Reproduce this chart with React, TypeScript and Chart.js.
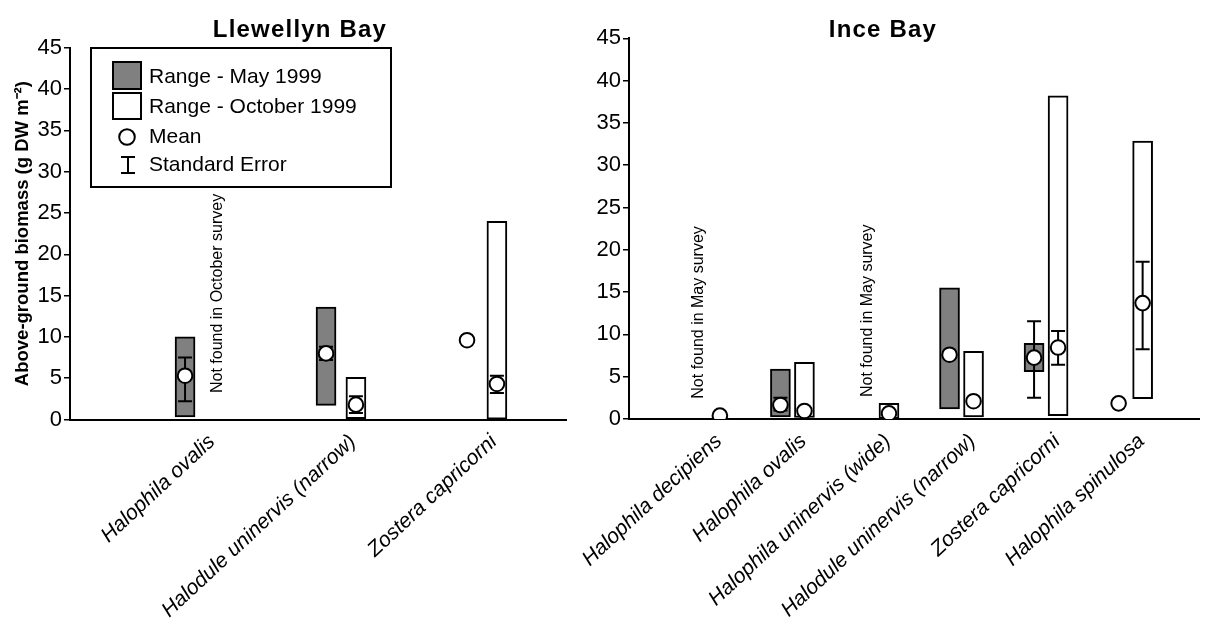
import React, { useEffect, useRef } from "react";
import { Chart, registerables } from "chart.js";

Chart.register(...registerables);

type Range = [number, number] | null;

// ---------- shared ----------
const yTickValues = [0, 5, 10, 15, 20, 25, 30, 35, 40, 45];
const yAxisTitle = "Above-ground biomass (g DW m\u207B\u00B2)";
const legendLabels = ["Range - May 1999", "Range - October 1999", "Mean", "Standard Error"];

// ---------- Llewellyn Bay ----------
const llewellynTitle = "Llewellyn Bay";
const llewellynCategories = ["Halophila ovalis", "Halodule uninervis (narrow)", "Zostera capricorni"];
const llewellynMayRange: Range[] = [[0.3, 10.0], [1.7, 13.6], null];
const llewellynOctRange: Range[] = [null, [0.1, 5.1], [0.05, 24.0]];
const llewellynMayMean: (number | null)[] = [5.3, 8.0, 9.6];
const llewellynOctMean: (number | null)[] = [null, 1.8, 4.3];
const llewellynMaySE: Range[] = [[2.2, 7.5], [7.2, 8.8], null];
const llewellynOctSE: Range[] = [null, [0.8, 2.8], [3.2, 5.3]];
const llewellynNotes = [{ category: 0, series: "oct", from: 3.2, text: "Not found in October survey" }];

// ---------- Ince Bay ----------
const inceTitle = "Ince Bay";
const inceCategories = [
  "Halophila decipiens",
  "Halophila ovalis",
  "Halophila uninervis (wide)",
  "Halodule uninervis (narrow)",
  "Zostera capricorni",
  "Halophila spinulosa",
];
const inceMayRange: Range[] = [null, [0.25, 5.9], null, [1.2, 15.5], [5.6, 8.95], null];
const inceOctRange: Range[] = [null, [0.2, 6.7], [0.05, 1.85], [0.25, 8.0], [0.4, 38.2], [2.4, 32.85]];
const inceMayMean: (number | null)[] = [null, 1.65, null, 7.6, 7.25, 1.85];
const inceOctMean: (number | null)[] = [0.4, 0.95, 0.67, 2.1, 8.45, 13.7];
const inceMaySE: Range[] = [null, [1.0, 2.5], null, null, [2.5, 11.55], null];
const inceOctSE: Range[] = [null, null, null, null, [6.4, 10.4], [8.25, 18.6]];
const inceNotes = [
  { category: 0, series: "may", from: 2.4, text: "Not found in May survey" },
  { category: 2, series: "may", from: 2.6, text: "Not found in May survey" },
];

const FONT = "'Liberation Sans', Arial, Helvetica, sans-serif";
const H = 625;

type PanelCfg = {
  title: string;
  titleX: number;
  categories: string[];
  mayRange: Range[];
  octRange: Range[];
  mayMean: (number | null)[];
  octMean: (number | null)[];
  maySE: Range[];
  octSE: Range[];
  notes: { category: number; series: string; from: number; text: string }[];
  legend: boolean;
  yTitle: boolean;
  canvasLeft: number;
  width: number;
  areaLeft: number;
  areaRight: number;
  areaTop: number;
  areaBottom: number;
  xMin: number;
  xMax: number;
  slot: number;
  labelShift: number;
};

function buildChart(canvas: HTMLCanvasElement, cfg: PanelCfg) {
  const barData = (ranges: Range[], off: number) =>
    ranges.map((r, i) => (r ? { x: i + 1 + off, y: r } : null)).filter((d) => d !== null);
  const meanData = (means: (number | null)[], off: number) =>
    means.map((m, i) => (m == null ? null : { x: i + 1 + off, y: m })).filter((d) => d !== null);
  const seData = (se: Range[], off: number) =>
    se.map((r, i) => (r ? { x: i + 1 + off, lo: r[0], hi: r[1] } : null)).filter((d) => d !== null);

  const barStyle = {
    borderColor: "#000",
    borderWidth: 2,
    borderSkipped: false,
    barThickness: 20,
    grouped: false,
    order: 3,
  };
  const pointStyle = {
    pointRadius: 7.3,
    pointHoverRadius: 7.3,
    pointBackgroundColor: "#fff",
    pointBorderColor: "#000",
    pointBorderWidth: 2,
    backgroundColor: "#fff",
    borderColor: "#000",
    showLine: false,
    order: 1,
  };

  const datasets: any[] = [
    { type: "bar", label: legendLabels[0], data: barData(cfg.mayRange, -cfg.slot), backgroundColor: "#808080", ...barStyle },
    { type: "bar", label: legendLabels[1], data: barData(cfg.octRange, cfg.slot), backgroundColor: "#ffffff", ...barStyle },
    { type: "scatter", label: "Mean May", data: meanData(cfg.mayMean, -cfg.slot), se: seData(cfg.maySE, -cfg.slot), ...pointStyle },
    { type: "scatter", label: "Mean October", data: meanData(cfg.octMean, cfg.slot), se: seData(cfg.octSE, cfg.slot), ...pointStyle },
  ];

  const decor = {
    id: "decor",
    beforeDatasetDraw(chart: any, args: any) {
      const ds: any = chart.data.datasets[args.index];
      if (!ds.se) return;
      const xs = chart.scales.x;
      const ys = chart.scales.y;
      const ctx = chart.ctx;
      ctx.save();
      ctx.strokeStyle = "#000";
      ctx.lineWidth = 2;
      const cap = 7;
      ds.se.forEach((e: any) => {
        const x = xs.getPixelForValue(e.x);
        const y1 = ys.getPixelForValue(e.lo);
        const y2 = ys.getPixelForValue(e.hi);
        ctx.beginPath();
        ctx.moveTo(x, y1);
        ctx.lineTo(x, y2);
        ctx.moveTo(x - cap, y1);
        ctx.lineTo(x + cap, y1);
        ctx.moveTo(x - cap, y2);
        ctx.lineTo(x + cap, y2);
        ctx.stroke();
      });
      ctx.restore();
    },
    afterDraw(chart: any) {
      const ctx = chart.ctx;
      const xs = chart.scales.x;
      const ys = chart.scales.y;
      ctx.save();
      // title
      ctx.fillStyle = "#000";
      ctx.font = `bold 24px ${FONT}`;
      ctx.textAlign = "center";
      ctx.textBaseline = "alphabetic";
      (ctx as any).letterSpacing = "1.2px";
      ctx.fillText(cfg.title, cfg.titleX, 37);
      (ctx as any).letterSpacing = "0px";

      // notes
      ctx.font = `16px ${FONT}`;
      ctx.textAlign = "left";
      ctx.textBaseline = "middle";
      cfg.notes.forEach((n) => {
        const off = n.series === "may" ? -cfg.slot : cfg.slot;
        const x = xs.getPixelForValue(n.category + 1 + off) + 3;
        const y = ys.getPixelForValue(n.from);
        ctx.save();
        ctx.translate(x, y);
        ctx.rotate(-Math.PI / 2);
        ctx.fillText(n.text, 0, 0);
        ctx.restore();
      });

      // legend
      if (cfg.legend) {
        ctx.lineWidth = 2;
        ctx.strokeStyle = "#000";
        ctx.strokeRect(91, 48, 300, 139);
        ctx.fillStyle = "#808080";
        ctx.fillRect(113, 62, 28, 27);
        ctx.strokeRect(113, 62, 28, 27);
        ctx.fillStyle = "#fff";
        ctx.fillRect(113, 93, 28, 26);
        ctx.strokeRect(113, 93, 28, 26);
        ctx.beginPath();
        ctx.arc(127, 137, 7.8, 0, Math.PI * 2);
        ctx.fill();
        ctx.stroke();
        ctx.beginPath();
        ctx.moveTo(128, 157);
        ctx.lineTo(128, 173);
        ctx.moveTo(121, 157);
        ctx.lineTo(135, 157);
        ctx.moveTo(121, 173);
        ctx.lineTo(135, 173);
        ctx.stroke();
        ctx.fillStyle = "#000";
        ctx.font = `21px ${FONT}`;
        ctx.textAlign = "left";
        ctx.textBaseline = "middle";
        const rows = [77, 107, 137, 165];
        legendLabels.forEach((t, i) => ctx.fillText(t, 149, rows[i]));
      }
      ctx.restore();
    },
  };

  const cats = cfg.categories;
  return new Chart(canvas, {
    type: "bar",
    data: { datasets },
    plugins: [decor],
    options: {
      animation: false,
      responsive: false,
      events: [],
      layout: {
        padding: { left: 0, top: cfg.areaTop, right: cfg.width - cfg.areaRight, bottom: 0 },
      },
      plugins: {
        legend: { display: false },
        tooltip: { enabled: false },
        title: { display: false },
      },
      scales: {
        x: {
          type: "linear",
          min: cfg.xMin,
          max: cfg.xMax,
          offset: false,
          bounds: "data",
          grid: { display: false },
          border: { display: true, color: "#000", width: 2 },
          afterBuildTicks: (scale: any) => {
            scale.ticks = cats.map((_, i) => ({ value: i + 1 + cfg.labelShift }));
          },
          afterFit: (scale: any) => {
            scale.height = H - cfg.areaBottom;
            scale.paddingLeft = 0;
            scale.paddingRight = 0;
          },
          ticks: {
            autoSkip: false,
            minRotation: 43,
            maxRotation: 43,
            padding: 2,
            color: "#000",
            font: { family: FONT, size: 21, style: "italic" },
            callback: (_v: any, i: number) => cats[i],
          },
        },
        y: {
          type: "linear",
          min: yTickValues[0],
          max: yTickValues[yTickValues.length - 1],
          afterBuildTicks: (scale: any) => {
            scale.ticks = yTickValues.map((v) => ({ value: v }));
          },
          afterFit: (scale: any) => {
            scale.width = cfg.areaLeft;
          },
          grid: {
            display: true,
            drawOnChartArea: false,
            drawTicks: true,
            tickLength: 6,
            color: "#000",
            lineWidth: 1.5,
          },
          border: { display: true, color: "#000", width: 2 },
          ticks: {
            padding: 2,
            color: "#000",
            font: { family: FONT, size: 22 },
          },
          title: {
            display: cfg.yTitle,
            text: yAxisTitle,
            color: "#000",
            font: { family: FONT, size: 18.5, weight: "bold" },
            padding: { top: 12, bottom: 0 },
          },
        },
      },
    } as any,
  });
}

const leftCfg: PanelCfg = {
  title: llewellynTitle,
  titleX: 300,
  categories: llewellynCategories,
  mayRange: llewellynMayRange,
  octRange: llewellynOctRange,
  mayMean: llewellynMayMean,
  octMean: llewellynOctMean,
  maySE: llewellynMaySE,
  octSE: llewellynOctSE,
  notes: llewellynNotes,
  legend: true,
  yTitle: true,
  canvasLeft: 0,
  width: 600,
  areaLeft: 70,
  areaRight: 566,
  areaTop: 47.7,
  areaBottom: 419.5,
  xMin: 0.078,
  xMax: 3.596,
  slot: 0.106,
  labelShift: 0.085,
};

const rightCfg: PanelCfg = {
  title: inceTitle,
  titleX: 883 - 560,
  categories: inceCategories,
  mayRange: inceMayRange,
  octRange: inceOctRange,
  mayMean: inceMayMean,
  octMean: inceOctMean,
  maySE: inceMaySE,
  octSE: inceOctSE,
  notes: inceNotes,
  legend: false,
  yTitle: false,
  canvasLeft: 560,
  width: 649,
  areaLeft: 69,
  areaRight: 640,
  areaTop: 38.3,
  areaBottom: 419,
  xMin: 0.067,
  xMax: 6.817,
  slot: 0.142,
  labelShift: 0.13,
};

function Panel({ cfg }: { cfg: PanelCfg }) {
  const ref = useRef<HTMLCanvasElement | null>(null);
  useEffect(() => {
    if (!ref.current) return;
    const chart = buildChart(ref.current, cfg);
    return () => chart.destroy();
  }, [cfg]);
  return (
    <canvas
      ref={ref}
      width={cfg.width}
      height={H}
      style={{ position: "absolute", left: cfg.canvasLeft, top: 0, width: cfg.width, height: H }}
    />
  );
}

export default function App() {
  return (
    <div style={{ position: "absolute", left: 0, top: 0, width: 1209, height: H, background: "#fff", overflow: "hidden" }}>
      <Panel cfg={leftCfg} />
      <Panel cfg={rightCfg} />
    </div>
  );
}
